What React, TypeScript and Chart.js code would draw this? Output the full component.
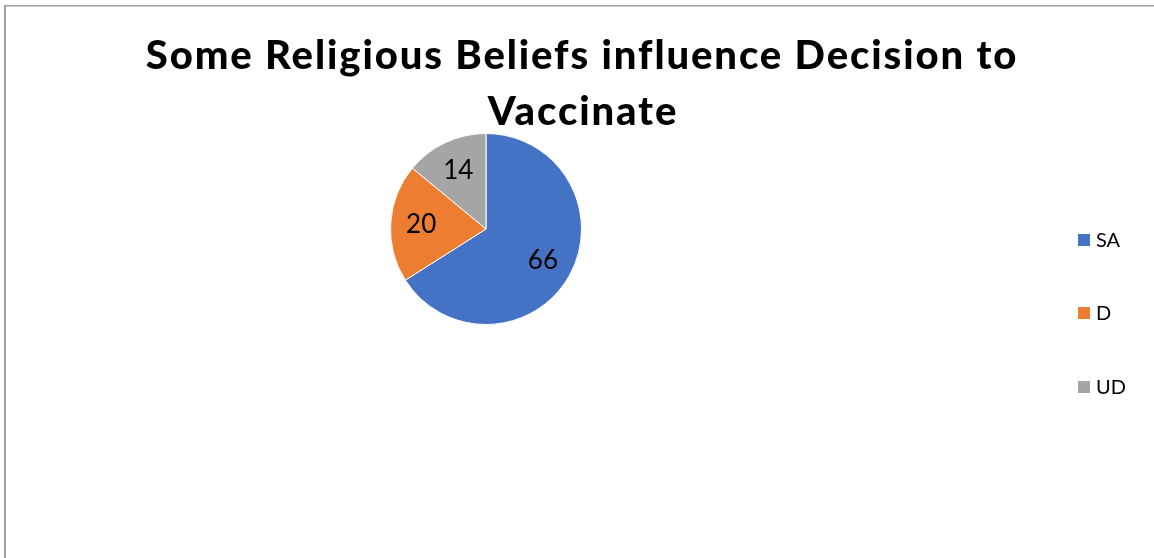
import React, { useEffect, useRef } from 'react';
import { Chart, registerables } from 'chart.js';

Chart.register(...registerables);

const categories: string[] = ['SA', 'D', 'UD'];
const values: number[] = [66, 20, 14];
const colors: string[] = ['#4472C4', '#ED7D31', '#A5A5A5'];
const titleLines: string[] = ['Some Religious Beliefs influence Decision to', 'Vaccinate'];

const W = 1154;
const H = 558;

const decorPlugin = {
  id: 'decor',
  afterDraw(chart: any) {
    const ctx = chart.ctx as CanvasRenderingContext2D;
    ctx.save();
    // outer frame
    ctx.fillStyle = '#a0a0a0';
    ctx.fillRect(4, 5, W - 4, 1.5);
    ctx.fillRect(4, 5, 2, H - 5);

    // title
    ctx.fillStyle = '#000000';
    ctx.font = '900 40px Lato';
    (ctx as any).letterSpacing = '1.9px';
    ctx.textAlign = 'center';
    ctx.textBaseline = 'alphabetic';
    ctx.fillText(titleLines[0], 582, 69);
    ctx.fillText(titleLines[1], 583, 125);
    (ctx as any).letterSpacing = '0px';

    // data labels
    const meta = chart.getDatasetMeta(0);
    ctx.font = '26px Lato';
    ctx.textBaseline = 'middle';
    meta.data.forEach((arc: any, i: number) => {
      const p = arc.getProps(['x', 'y', 'startAngle', 'endAngle', 'outerRadius'], true);
      const mid = (p.startAngle + p.endAngle) / 2;
      const r = p.outerRadius * 0.68;
      ctx.fillText(String(values[i]), p.x + Math.cos(mid) * r, p.y + Math.sin(mid) * r);
    });

    // legend
    const legendY = [240, 313, 387];
    ctx.font = '20px Lato';
    ctx.textAlign = 'left';
    categories.forEach((c, i) => {
      ctx.fillStyle = colors[i];
      ctx.fillRect(1078, legendY[i] - 6, 12, 12);
      ctx.fillStyle = '#000000';
      ctx.fillText(c, 1096, legendY[i] + 1);
    });
    ctx.restore();
  },
};

export default function App() {
  const ref = useRef<HTMLCanvasElement | null>(null);
  useEffect(() => {
    if (!ref.current) return;
    const chart = new Chart(ref.current, {
      type: 'pie',
      data: {
        labels: categories,
        datasets: [
          {
            data: values,
            backgroundColor: colors,
            borderColor: '#ffffff',
            borderWidth: 1,
          },
        ],
      },
      options: {
        responsive: false,
        animation: false,
        layout: { padding: { left: 390, right: W - 582, top: 133, bottom: H - 325 } },
        plugins: {
          legend: { display: false },
          title: { display: false },
          tooltip: { enabled: false },
        },
      },
      plugins: [decorPlugin],
    });
    return () => chart.destroy();
  }, []);
  return (
    <div style={{ position: 'absolute', left: 0, top: 0, width: W, height: H, background: '#ffffff' }}>
      <canvas ref={ref} width={W} height={H} style={{ width: W, height: H, display: 'block' }} />
    </div>
  );
}
